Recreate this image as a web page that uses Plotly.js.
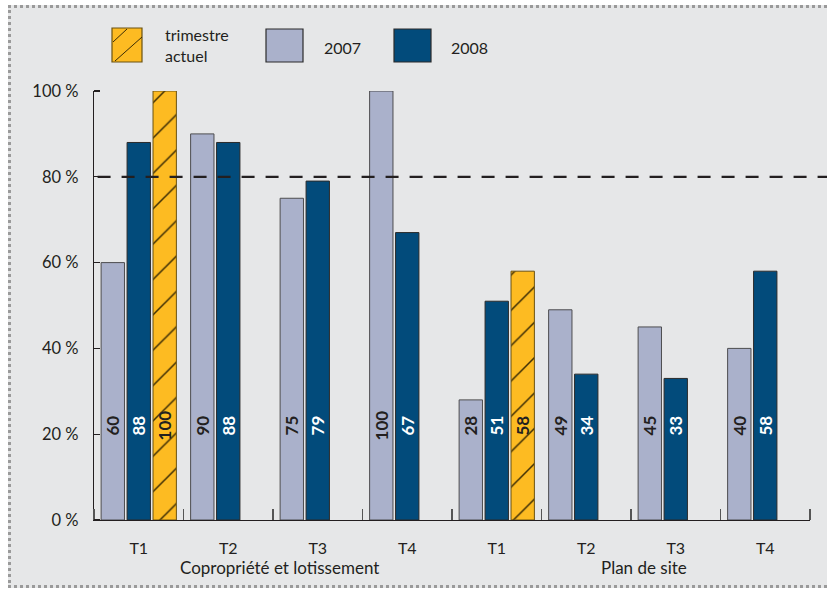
<!DOCTYPE html>
<html>
<head>
<meta charset="utf-8">
<script src="https://cdn.plot.ly/plotly-3.0.1.min.js"></script>
<style>
  html, body { margin: 0; padding: 0; background: #ffffff; overflow: hidden; }
  #frame { position: absolute; left: 8px; top: 5px; width: 840px; height: 577px;
           background: #e6e7e8; border: 3px dotted #9a9a9a; border-right: none; }
  #chart { position: absolute; left: 0; top: 0; width: 827px; height: 589px; }
</style>
</head>
<body>
<div id="frame"></div>
<div id="chart"></div>
<script>
// ---- data ----
const quarters = ["T1", "T2", "T3", "T4", "T1", "T2", "T3", "T4"];
const sections = ["Copropriété et lotissement", "Plan de site"];
const values2007 = [60, 90, 75, 100, 28, 49, 45, 40];
const values2008 = [88, 88, 79, 67, 51, 34, 33, 58];
const valuesCurrent = [100, null, null, null, 58, null, null, null];
const seriesNames = ["2007", "2008", "trimestre actuel"];
const targetLine = 80;
const yTicks = [0, 20, 40, 60, 80, 100];
const yTickText = yTicks.map(v => v + " %");

// ---- style ----
const C2007 = "#aab1cb", C2008 = "#024b7b", CCUR = "#fdbb22";
const TXT = "#231f20";
const FONT = "Lato, 'Open Sans', sans-serif";
const labelLevel = 44; // label band height (labels centred at 22 %)

const xIdx = quarters.map((_, i) => i);

// plot area in pixels: x 94..810, y 91..520
function P(px, py) { return { x: (px - 94) / 716, y: (520 - py) / 429 }; }

function barTrace(vals, name, color, lineColor, group, pattern) {
  const t = {
    type: "bar", x: xIdx, y: vals, name: name, offsetgroup: group,
    marker: { color: color, line: { color: lineColor, width: 1 } },
    hoverinfo: "y", cliponaxis: false, showlegend: false
  };
  if (pattern) t.marker.pattern = pattern;
  return t;
}
function labelTrace(vals, group, color) {
  return {
    type: "bar", x: xIdx,
    y: vals.map(v => v == null ? null : labelLevel),
    text: vals.map(v => v == null ? "" : String(v)),
    textposition: "inside", insidetextanchor: "middle", textangle: -90,
    constraintext: "none",
    textfont: { family: FONT, size: 17, color: color, weight: 700 },
    offsetgroup: group,
    marker: { color: "rgba(0,0,0,0)", line: { width: 0 } },
    hoverinfo: "skip", showlegend: false
  };
}

const data = [
  barTrace(values2007, seriesNames[0], C2007, "#4d4d4f", "a"),
  barTrace(values2008, seriesNames[1], C2008, "#2b2b2b", "b"),
  barTrace(valuesCurrent, seriesNames[2], CCUR, "#6b5210", "c",
           { shape: "/", size: 25, solidity: 0.06, fgcolor: "#3b2c05", bgcolor: CCUR, fillmode: "replace" }),
  labelTrace(values2007, "a", TXT),
  labelTrace(values2008, "b", "#ffffff"),
  labelTrace(valuesCurrent, "c", TXT)
];

// legend (drawn with shapes + annotations)
function rect(x0, y0, x1, y1, fill, line) {
  const a = P(x0, y0), b = P(x1, y1);
  return { type: "rect", xref: "paper", yref: "paper", x0: a.x, y0: a.y, x1: b.x, y1: b.y,
           fillcolor: fill, line: { color: line, width: 1.2 }, layer: "above" };
}
function seg(x0, y0, x1, y1, color, w) {
  const a = P(x0, y0), b = P(x1, y1);
  return { type: "line", xref: "paper", yref: "paper", x0: a.x, y0: a.y, x1: b.x, y1: b.y,
           line: { color: color, width: w }, layer: "above" };
}
function note(text, px, py, anchor, size) {
  const p = P(px, py);
  return { text: text, xref: "paper", yref: "paper", x: p.x, y: p.y, xanchor: anchor, yanchor: "middle",
           showarrow: false, align: "left", font: { family: FONT, size: size || 16, color: TXT } };
}

const shapes = [
  { type: "line", xref: "paper", yref: "y", x0: 0.005, x1: 1.03, y0: targetLine, y1: targetLine,
    line: { color: TXT, width: 2.2, dash: "13px,11px" }, layer: "above" },
  rect(112, 28, 142, 62, CCUR, "#6b5210"),
  seg(113, 42, 127, 29, "#3b2c05", 1),
  seg(115, 61, 142, 37, "#3b2c05", 1),
  rect(266, 29, 303, 62, C2007, "#2b2b2b"),
  rect(394, 29, 431, 62, C2008, "#2b2b2b")
];

const annotations = [
  note("trimestre<br>actuel", 163, 45, "left"),
  note(seriesNames[0], 322, 48, "left"),
  note(seriesNames[1], 449, 48, "left"),
  note(sections[0], 279, 567, "center", 17),
  note(sections[1], 644, 567, "center", 17)
];

const layout = {
  width: 827, height: 589,
  margin: { l: 94, r: 17, t: 91, b: 69, pad: 0 },
  paper_bgcolor: "rgba(0,0,0,0)", plot_bgcolor: "rgba(0,0,0,0)",
  barmode: "group", bargap: 0.13, bargroupgap: 0.1,
  showlegend: false,
  font: { family: FONT, size: 16, color: TXT },
  xaxis: {
    range: [-0.5, 7.5], tickmode: "array", tickvals: xIdx, ticktext: quarters,
    ticks: "", showline: true, linecolor: TXT, linewidth: 1.2, showgrid: false, zeroline: false,
    ticklabelstandoff: 14,
    tickfont: { family: FONT, size: 16, color: TXT },
    minor: { tickmode: "linear", tick0: -0.5, dtick: 1, ticks: "inside", ticklen: 11,
             tickcolor: "#555", tickwidth: 1.2, showgrid: false }
  },
  yaxis: {
    range: [0, 100], tickmode: "array", tickvals: yTicks, ticktext: yTickText,
    ticks: "", showline: true, linecolor: TXT, linewidth: 1.2, showgrid: false, zeroline: false,
    ticklabelstandoff: 11,
    tickfont: { family: FONT, size: 16.5, color: TXT },
    minor: { tickmode: "linear", tick0: 0, dtick: 20, ticks: "inside", ticklen: 6,
             tickcolor: TXT, tickwidth: 1.2, showgrid: false }
  },
  shapes: shapes,
  annotations: annotations
};

Plotly.newPlot("chart", data, layout, { displayModeBar: false, staticPlot: true });
</script>
</body>
</html>
